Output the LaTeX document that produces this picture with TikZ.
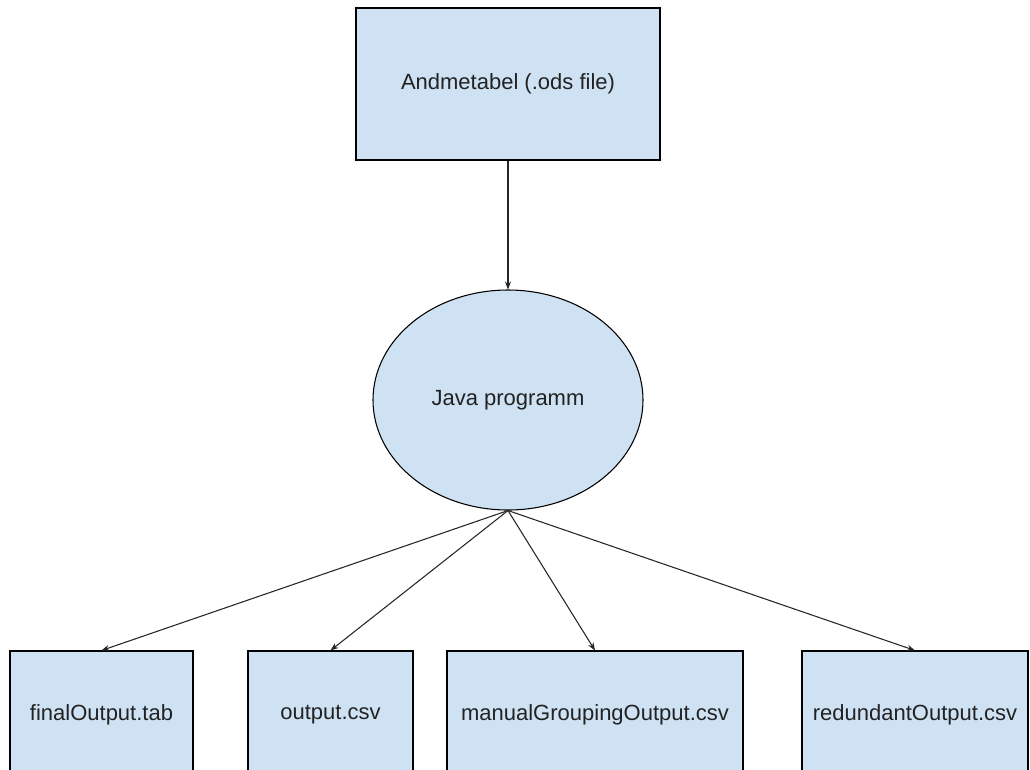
\documentclass[tikz,border=0pt]{standalone}
\usepackage{fontspec}
\setmainfont{Liberation Sans}
\usepackage{tikz}
\usetikzlibrary{shapes, arrows.meta, positioning}
\definecolor{boxblue}{RGB}{207, 226, 243}
\definecolor{textgray}{RGB}{34, 34, 34}
\tikzset{
  filebox/.style={draw=black, fill=boxblue, line width=0.8pt, text=textgray, font=\fontsize{16.5}{19}\selectfont, inner sep=0pt},
  progbox/.style={ellipse, draw=black, fill=boxblue, line width=0.8pt, text=textgray, font=\fontsize{16.5}{19}\selectfont, inner sep=0pt, minimum width=202.5pt, minimum height=165pt},
  flow/.style={-{Stealth[length=6pt, width=4.5pt]}, line width=0.8pt, black!85}
}

\begin{document}
\begin{tikzpicture}[x=0.75pt, y=-0.75pt]
  \useasboundingbox (0, 0) rectangle (1030, 769);

  % Input spreadsheet
  \node[filebox, minimum width=228pt, minimum height=114pt] (ods) at (508, 84) {Andmetabel (.ods file)};

  % Program
  \node[progbox] (java) at (508, 400) {Java programm};

  % Output files
  \node[filebox, minimum width=137.25pt, minimum height=96pt] (tab) at (101.5, 715) {finalOutput.tab};
  \node[filebox, minimum width=123.75pt, minimum height=96pt] (csv) at (330.5, 715) {output.csv};
  \node[filebox, minimum width=222pt, minimum height=96pt] (manual) at (595, 715) {manualGroupingOutput.csv};
  \node[filebox, minimum width=169.5pt, minimum height=96pt] (redundant) at (915, 715) {redundantOutput.csv};

  % Connectors
  \draw[flow] (ods.south) -- (java.north);
  \foreach \out in {tab, csv, manual, redundant}
    \draw[flow] (java.south) -- (\out.north);
\end{tikzpicture}
\end{document}
